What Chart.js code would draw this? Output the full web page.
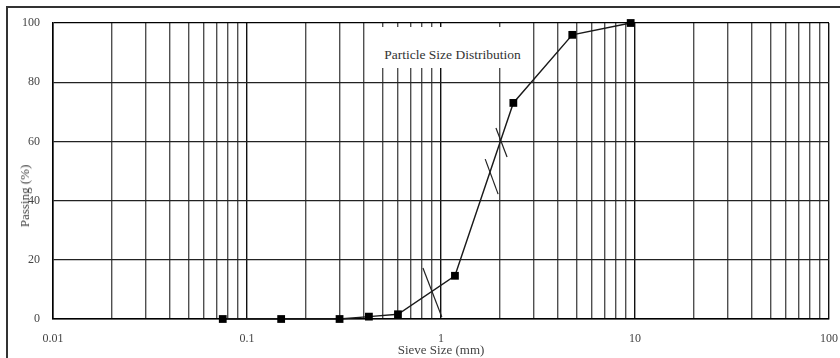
<!DOCTYPE html>
<html><head><meta charset="utf-8">
<script src="https://cdn.jsdelivr.net/npm/chart.js@4.4.0/dist/chart.umd.min.js"></script>
<style>
html,body{margin:0;padding:0;background:#fff;}
#wrap{position:relative;width:840px;height:358px;overflow:hidden;background:#fff;}
#frame{position:absolute;left:6px;top:6px;width:900px;height:400px;border:2px solid #333;}
#c{position:absolute;left:0;top:0;}
#title{position:absolute;left:376px;top:27px;width:153px;height:41px;background:#fff;
  font-family:'Liberation Serif',serif;font-size:13.5px;color:#333;text-align:center;
  box-sizing:border-box;padding-top:21px;line-height:14px;white-space:nowrap;}
#ytitle{position:absolute;left:25px;top:196px;transform:translate(-50%,-50%) rotate(-90deg);
  font-family:'Liberation Serif',serif;font-size:13px;color:#444;white-space:nowrap;}
</style>
</head><body>
<div id="wrap">
  <div id="frame"></div>
  <canvas id="c" width="840" height="358"></canvas>
  <div id="title">Particle Size Distribution</div>
  <div id="ytitle">Passing (%)</div>
</div>
<script>
// Sieve analysis data
const sieveSizes = [0.075, 0.15, 0.3, 0.425, 0.6, 1.18, 2.36, 4.75, 9.5];
const passing    = [0, 0, 0, 0.8, 1.6, 14.6, 73, 96, 100];

// Slanted marker segments (D10, D50, D60 indications)
const d10MarkX = [0.807, 1.01];
const d10MarkY = [17.2, 0.7];
const d50MarkX = [1.69, 1.97];
const d50MarkY = [54, 42.2];
const d60MarkX = [1.92, 2.19];
const d60MarkY = [64.5, 54.7];

// Axis ticks
const xGridValues = [0.01,0.02,0.03,0.04,0.05,0.06,0.07,0.08,0.09,
  0.1,0.2,0.3,0.4,0.5,0.6,0.7,0.8,0.9,
  1,2,3,4,5,6,7,8,9,
  10,20,30,40,50,60,70,80,90,100];
const xTickLabels = {0.01:'0.01', 0.1:'0.1', 1:'1', 10:'10', 100:'100'};
const yTicks = [0, 20, 40, 60, 80, 100];

const toPts = (xs, ys) => xs.map((x, i) => ({x: x, y: ys[i]}));
const serif = "'Liberation Serif', serif";

const markStyle = {borderColor:'#222', borderWidth:1.2, pointRadius:0, fill:false, clip:false};

new Chart(document.getElementById('c'), {
  type: 'line',
  data: {
    datasets: [
      {data: toPts(sieveSizes, passing), borderColor:'#1a1a1a', borderWidth:1.4,
       pointStyle:'rect', pointRadius:5.5, pointBackgroundColor:'#000', pointBorderColor:'#000',
       pointBorderWidth:0, fill:false, clip:false, tension:0},
      Object.assign({data: toPts(d10MarkX, d10MarkY)}, markStyle),
      Object.assign({data: toPts(d50MarkX, d50MarkY)}, markStyle),
      Object.assign({data: toPts(d60MarkX, d60MarkY)}, markStyle)
    ]
  },
  options: {
    responsive: false,
    animation: false,
    events: [],
    layout: {padding: {left: 0, right: 11, top: 23, bottom: 0}},
    plugins: {legend: {display: false}, tooltip: {enabled: false}, title: {display: false}},
    scales: {
      x: {
        type: 'logarithmic', min: 0.01, max: 100,
        afterBuildTicks: s => { s.ticks = xGridValues.map(v => ({value: v})); },
        afterFit: s => { s.height = 39; },
        ticks: {
          autoSkip: false, maxRotation: 0, padding: 0,
          color: '#444', font: {family: serif, size: 12},
          callback: (v) => xTickLabels[v] !== undefined ? xTickLabels[v] : ''
        },
        grid: {
          drawTicks: true, tickLength: 13, tickColor: 'rgba(0,0,0,0)',
          color: c => (c.tick && xTickLabels[c.tick.value] !== undefined) ? '#111' : '#505050',
          lineWidth: 1.4
        },
        border: {display: true, color: '#000', width: 1.5},
        title: {display: true, text: 'Sieve Size (mm)', color: '#444',
                font: {family: serif, size: 13}, padding: {top: 0, bottom: 0}}
      },
      y: {
        min: 0, max: 100,
        afterBuildTicks: s => { s.ticks = yTicks.map(v => ({value: v})); },
        afterFit: s => { s.width = 53; },
        ticks: {padding: 13, color: '#444', font: {family: serif, size: 12}},
        grid: {drawTicks: false, color: c => (c.tick && c.tick.value === 100) ? '#000' : '#222', lineWidth: 1.3},
        border: {display: true, color: '#000', width: 1.5}
      }
    }
  }
});
</script>
</body></html>
